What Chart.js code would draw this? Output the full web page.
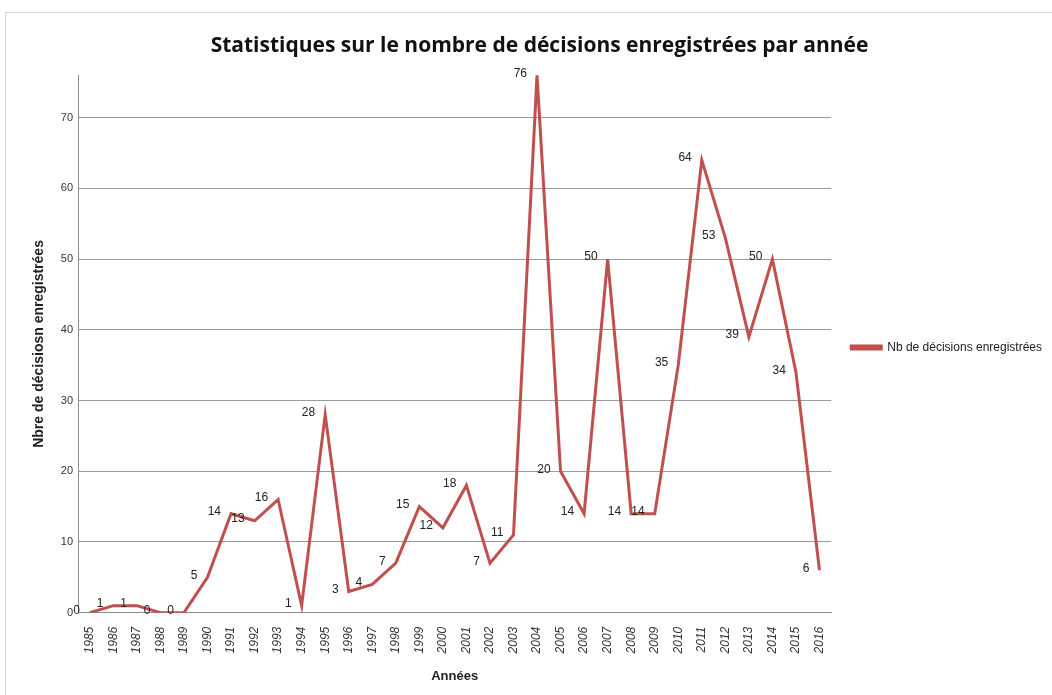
<!DOCTYPE html>
<html>
<head>
<meta charset="utf-8">
<script src="https://cdn.jsdelivr.net/npm/chart.js@4.4.0/dist/chart.umd.min.js"></script>
<style>
  body { margin: 0; background: #fff; }
  #cadre { position: absolute; left: 5px; top: 12px; width: 1060px; height: 700px; border: 1px solid #d4d4d4; }
  #myChart { position: absolute; left: 0; top: 0; }
</style>
</head>
<body>
<div id="cadre"></div>
<canvas id="myChart" width="1052" height="695"></canvas>
<script>
// Données
const annees = ['1985', '1986', '1987', '1988', '1989', '1990', '1991', '1992', '1993', '1994',
  '1995', '1996', '1997', '1998', '1999', '2000', '2001', '2002', '2003', '2004', '2005',
  '2006', '2007', '2008', '2009', '2010', '2011', '2012', '2013', '2014', '2015', '2016'];
const nbDecisions = [0, 1, 1, 0, 0, 5, 14, 13, 16, 1, 28, 3, 4, 7, 15, 12, 18, 7, 11, 76, 20,
  14, 50, 14, 14, 35, 64, 53, 39, 50, 34, 6];
const graduationsY = [0, 10, 20, 30, 40, 50, 60, 70];

const rouge = '#c0504d';

// étiquettes de valeurs, à gauche de chaque point (comme Excel)
const etiquettes = {
  id: 'etiquettes',
  afterDatasetsDraw(chart) {
    const c = chart.ctx;
    const meta = chart.getDatasetMeta(0);
    c.save();
    c.font = '12px "Liberation Sans", Arial, sans-serif';
    c.fillStyle = '#222';
    c.textAlign = 'right';
    c.textBaseline = 'middle';
    meta.data.forEach((pt, i) => {
      c.fillText(String(nbDecisions[i]), pt.x - 10, pt.y - 2);
    });
    c.restore();
  }
};

const ctx = document.getElementById('myChart');

new Chart(ctx, {
  type: 'line',
  data: {
    labels: annees,
    datasets: [{
      label: 'Nb de décisions enregistrées',
      data: nbDecisions,
      borderColor: rouge,
      backgroundColor: rouge,
      borderWidth: 3,
      pointRadius: 0,
      tension: 0
    }]
  },
  options: {
    responsive: false,
    animation: false,
    layout: { padding: { top: 8, left: 27, right: 0, bottom: 8 } },
    scales: {
      x: {
        offset: true,
        grid: { display: false, drawTicks: false },
        border: { color: '#8c8c8c', width: 1 },
        ticks: {
          color: '#333',
          font: { family: 'Liberation Sans', size: 12, style: 'italic' },
          minRotation: 90,
          maxRotation: 90,
          padding: 14,
          autoSkip: false
        },
        title: {
          display: true,
          text: 'Années',
          color: '#222',
          font: { family: 'Liberation Sans', size: 13, weight: 'bold' },
          padding: { top: 1, bottom: 3 }
        }
      },
      y: {
        min: 0,
        max: 76,
        afterBuildTicks: (axis) => {
          axis.ticks = graduationsY.map(v => ({ value: v }));
        },
        grid: {
          color: '#9a9a9a',
          drawTicks: false
        },
        border: { color: '#8c8c8c', width: 1 },
        ticks: {
          color: '#333',
          font: { family: 'Liberation Sans', size: 11 },
          padding: 5
        },
        title: {
          display: true,
          text: 'Nbre de décisiosn enregistrées',
          color: '#222',
          font: { family: 'Liberation Sans', size: 14, weight: 'bold' },
          padding: { bottom: 8 }
        }
      }
    },
    plugins: {
      title: {
        display: true,
        text: 'Statistiques sur le nombre de décisions enregistrées par année',
        color: '#111',
        font: { family: 'Open Sans', size: 21, weight: 'bold' },
        padding: { top: 25, bottom: 17 }
      },
      legend: {
        position: 'right',
        labels: {
          color: '#222',
          font: { family: 'Liberation Sans', size: 12 },
          boxWidth: 30,
          boxHeight: 3,
          padding: 20
        }
      },
      tooltip: { enabled: false }
    }
  },
  plugins: [etiquettes]
});
</script>
</body>
</html>
